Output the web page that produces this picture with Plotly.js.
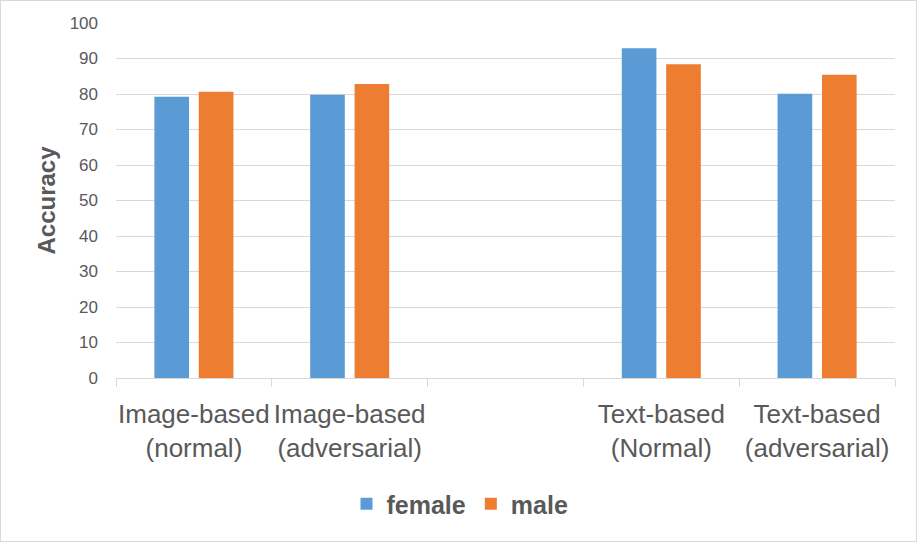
<!DOCTYPE html>
<html>
<head>
<meta charset="utf-8">
<script src="https://cdn.plot.ly/plotly-3.0.1.min.js"></script>
<style>
  html, body { margin: 0; padding: 0; background: #fff; }
  #chart { width: 917px; height: 542px; outline: 1px solid #d9d9d9; outline-offset: -1px; }
</style>
</head>
<body>
<div id="chart"></div>
<script>
// Accuracy by gender for each evaluation setting (one blank slot between groups)
const categories = [
  'Image-based<br>(normal)',
  'Image-based<br>(adversarial)',
  ' ',
  'Text-based<br>(Normal)',
  'Text-based<br>(adversarial)'
];
const femaleAcc = [79.2, 79.8, null, 92.9, 80.1];
const maleAcc = [80.6, 82.8, null, 88.4, 85.4];
const yTicks = [0, 10, 20, 30, 40, 50, 60, 70, 80, 90, 100];

const textGrey = '#595959';
const lineGrey = '#d9d9d9';
const family = '"Liberation Sans", Arial, sans-serif';

const traces = [
  { type: 'bar', name: 'female', x: categories, y: femaleAcc, marker: { color: '#5b9bd5' }, hoverinfo: 'x+y' },
  { type: 'bar', name: 'male', x: categories, y: maleAcc, marker: { color: '#ed7d31' }, hoverinfo: 'x+y' }
];

const layout = {
  width: 917,
  height: 542,
  margin: { l: 116, r: 22, t: 23, b: 164 },
  paper_bgcolor: 'rgba(0,0,0,0)',
  plot_bgcolor: '#ffffff',
  barmode: 'group',
  bargap: 0.43,
  bargroupgap: 0.22,
  font: { family: family, color: textGrey },
  xaxis: {
    type: 'category',
    categoryorder: 'array',
    categoryarray: categories,
    showline: true,
    linecolor: lineGrey,
    linewidth: 1,
    ticks: 'outside',
    tickson: 'boundaries',
    ticklen: 8,
    tickcolor: lineGrey,
    showgrid: false,
    tickangle: 0,
    tickfont: { family: family, size: 26, color: textGrey },
    ticklabelstandoff: 13,
    fixedrange: true
  },
  yaxis: {
    range: [0, 100],
    tickvals: yTicks,
    ticktext: yTicks.map(String),
    showgrid: true,
    gridcolor: lineGrey,
    gridwidth: 1,
    zeroline: false,
    showline: false,
    ticks: '',
    tickfont: { family: family, size: 17, color: textGrey },
    ticklabelstandoff: 17,
    title: {
      text: '<b>Accuracy</b>',
      font: { family: family, size: 24, color: textGrey },
      standoff: 7
    },
    fixedrange: true
  },
  showlegend: true,
  legend: {
    orientation: 'h',
    x: 0.4416,
    xanchor: 'center',
    y: -0.355,
    yanchor: 'middle',
    font: { family: family, size: 25, color: textGrey, weight: 'bold' },
    itemwidth: 30,
    traceorder: 'normal'
  }
};

Plotly.newPlot('chart', traces, layout, { displayModeBar: false, staticPlot: true });
</script>
</body>
</html>
